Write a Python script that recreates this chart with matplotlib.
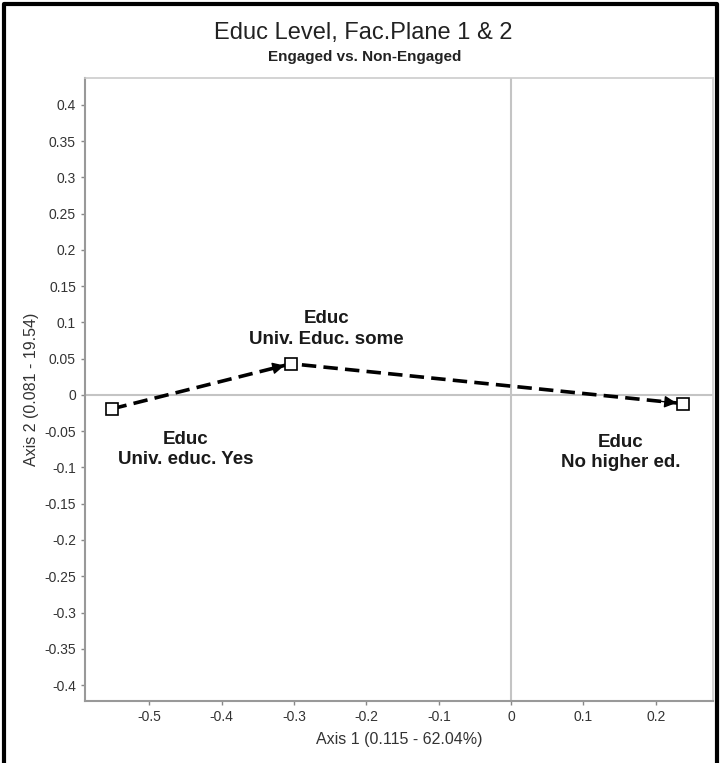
import numpy as np
import matplotlib.pyplot as plt
from matplotlib.lines import Line2D

# coordinates on factorial plane 1 & 2
categories = ["Univ. educ. Yes", "Univ. Educ. some", "No higher ed."]
axis1 = [-0.551, -0.304, 0.238]
axis2 = [-0.019, 0.043, -0.012]
label_pos = [(-0.450, -0.075), (-0.255, 0.091), (0.151, -0.079)]

xticks = [-0.5, -0.4, -0.3, -0.2, -0.1, 0, 0.1, 0.2]
yticks = [0.4, 0.35, 0.3, 0.25, 0.2, 0.15, 0.1, 0.05, 0, -0.05,
          -0.1, -0.15, -0.2, -0.25, -0.3, -0.35, -0.4]

plt.rcParams['font.family'] = ['Liberation Sans', 'DejaVu Sans']

fig = plt.figure(figsize=(7.2, 7.63), dpi=100)
ax = fig.add_axes([85 / 720, 1 - 701 / 763, 628 / 720, 623 / 763])

ax.set_xlim(-0.589, 0.279)
ax.set_ylim(-0.422, 0.437)

ax.axvline(0, color='#c4c4c4', lw=1.5, zorder=1)
ax.axhline(0, color='#c4c4c4', lw=1.5, zorder=1)

ax.plot(axis1, axis2, ls=(0, (4, 2)), color='black', lw=2.6, zorder=2)
for i in range(len(axis1) - 1):
    x0, y0, x1, y1 = axis1[i], axis2[i], axis1[i + 1], axis2[i + 1]
    xs = x1 - 0.08 * (x1 - x0)
    ys = y1 - 0.08 * (y1 - y0)
    ax.annotate('', xy=(x1, y1), xytext=(xs, ys),
                arrowprops=dict(arrowstyle='-|>', color='black', lw=1,
                                mutation_scale=18, shrinkA=0, shrinkB=5),
                zorder=3)
ax.plot(axis1, axis2, ls='none', marker='s', ms=8, mfc='white', mec='black',
        mew=1.2, zorder=4)

for name, (lx, ly) in zip(categories, label_pos):
    ax.text(lx, ly, "Educ\n" + name, ha='center', va='center', fontsize=13.5,
            fontweight='bold', color='#1a1a1a', linespacing=1.25)

ax.set_xticks(xticks)
ax.set_xticklabels([f"{t:g}" for t in xticks])
ax.set_yticks(yticks)
ax.set_yticklabels([f"{t:g}" for t in yticks])
ax.tick_params(colors='#888888', labelcolor='#333333', labelsize=10,
               length=3, width=1)

for side in ['left', 'bottom']:
    ax.spines[side].set_color('#999999')
    ax.spines[side].set_linewidth(1.5)
for side in ['top', 'right']:
    ax.spines[side].set_color('#cccccc')
    ax.spines[side].set_linewidth(1.2)

ax.set_xlabel("Axis 1 (0.115 - 62.04%)", fontsize=11.5, color='#333333', labelpad=6)
ax.set_ylabel("Axis 2 (0.081 - 19.54)", fontsize=11.5, color='#333333', labelpad=4)

fig.text(0.505, 1 - 33 / 763, "Educ Level, Fac.Plane 1 & 2", ha='center',
         va='center', fontsize=17, color='#222222')
fig.text(0.507, 1 - 57 / 763, "Engaged vs. Non-Engaged", ha='center',
         va='center', fontsize=11, fontweight='bold', color='#222222')

# outer frame (left, top, right)
fx = [4 / 720, 4 / 720, 717 / 720, 717 / 720]
fy = [0, 1 - 4 / 763, 1 - 4 / 763, 0]
fig.add_artist(Line2D(fx, fy, transform=fig.transFigure, color='black', lw=3))

fig.savefig("out.png", dpi=100)
